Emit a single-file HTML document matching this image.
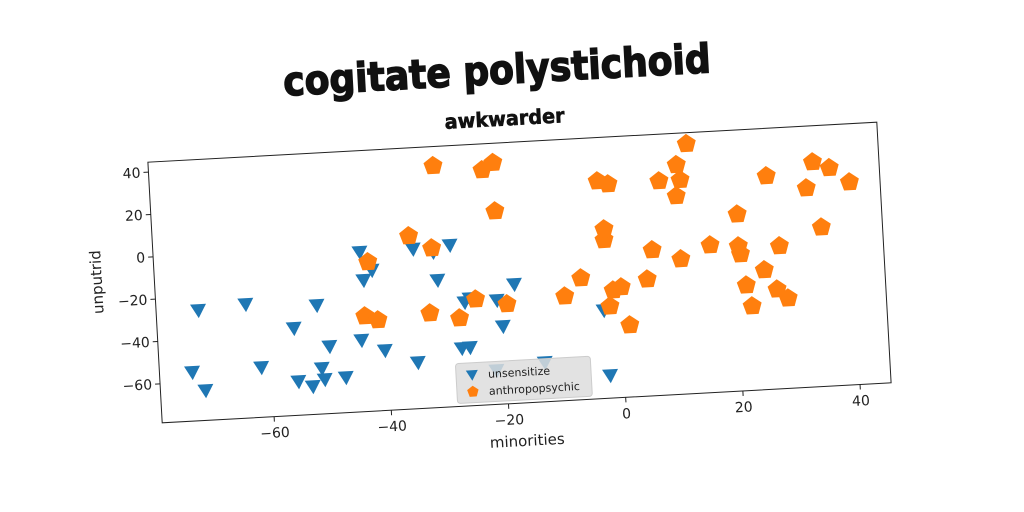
<!DOCTYPE html>
<html><head><meta charset="utf-8">
<style>
html,body{margin:0;padding:0;background:#fff;}
svg{display:block;}
text{font-family:"DejaVu Sans","Liberation Sans",sans-serif;}
</style></head>
<body>
<svg id="chart" width="1024" height="512" viewBox="0 0 1024 512" xmlns="http://www.w3.org/2000/svg">
<rect width="1024" height="512" fill="#fff"/>
<g id="fig" transform="rotate(-3.14 519.5 272.5)">
  <text x="508" y="83" text-anchor="middle" font-size="40" font-weight="bold" textLength="428" lengthAdjust="spacingAndGlyphs" fill="#111" stroke="#111" stroke-width="1.5">cogitate polystichoid</text>
  <text x="513" y="125" text-anchor="middle" font-size="20" font-weight="bold" textLength="120" lengthAdjust="spacingAndGlyphs" fill="#111" stroke="#111" stroke-width="0.6">awkwarder</text>
  <g id="plot"></g>
  <text x="518" y="446" text-anchor="middle" font-size="15" fill="#222">minorities</text>
  <text x="0" y="0" transform="translate(102 259) rotate(-90)" text-anchor="middle" font-size="15" fill="#222">unputrid</text>
</g>
</svg>
<script>
const xTicks=[-60,-40,-20,0,20,40];
const yTicks=[-60,-40,-20,0,20,40];
const blueX=[-71.9,-63.8,-73.5,-71.4,-61.7,-55.8,-51.7,-55.5,-53.1,-51.4,-51.0,-49.9,-47.4,-44.4,-43.9,-43.5,-42.0,-40.5,-34.8,-35.0,-31.4,-28.5,-30.9,-27.4,-26.0,-26.5,-25.6,-21.0,-20.2,-17.9,-13.4,-2.9,-2.4,-21.7];
const blueY=[-26.3,-24.7,-55.3,-64.2,-54.8,-37.2,-27.0,-62.4,-65.1,-56.8,-62.1,-46.7,-61.7,-44.6,-3.1,-16.4,-11.9,-50.0,-3.0,-56.5,-5.0,-2.1,-18.3,-51.0,-50.8,-29.4,-27.7,-29.3,-41.7,-22.2,-59.8,-36.8,-67.6,-62.3];
const orangeX=[-30.6,-22.3,-20.4,-20.5,-35.4,-31.6,-42.6,-43.6,-41.4,-32.5,-27.5,-24.6,-19.3,-9.4,-6.5,-2.2,-2.1,-2.8,-1.0,-1.1,-1.8,0.3,1.4,4.8,5.9,7.7,10.8,11.3,10.5,12.7,10.7,15.8,20.7,20.6,20.9,21.6,22.4,24.8,26.0,27.6,26.8,28.6,32.7,34.0,36.8,40.1,34.9];
const orangeY=[35.6,32.4,35.5,12.7,3.2,-3.1,-8.0,-33.4,-35.6,-33.7,-36.8,-28.3,-31.4,-29.2,-21.1,-3.7,1.4,24.2,22.5,-27.6,-35.1,-26.4,-44.5,-23.3,-9.7,22.6,29.8,22.6,15.1,39.4,-14.7,-8.9,5.0,-10.1,-13.9,-28.7,-38.7,-22.0,22.2,-11.1,-31.4,-35.9,15.5,27.6,24.4,17.2,-3.3];
const NS='http://www.w3.org/2000/svg';
const L=154.5,T=142,W=730,H=261;
const xMin=-79.1,xMax=45.3,yMin=-78.4,yMax=44.7;
const sx=v=>L+(v-xMin)/(xMax-xMin)*W;
const sy=v=>T+(yMax-v)/(yMax-yMin)*H;
const plot=document.getElementById('plot');
function mk(tag,attrs){const e=document.createElementNS(NS,tag);for(const k in attrs)e.setAttribute(k,attrs[k]);plot.appendChild(e);return e;}
const frame=mk('rect',{x:L,y:T,width:W,height:H,fill:'none',stroke:'#222','stroke-width':1});


xTicks.forEach(t=>{
  const x=sx(t);
  const ln=mk('line',{x1:x,x2:x,y1:T+H,y2:T+H+5,stroke:'#222'});
  
  
  const tx=mk('text',{x:x,y:T+H+21,'text-anchor':'middle','font-size':14,fill:'#222'});
  tx.textContent=(t<0?'\u2212'+(-t):t);
  
  
});
yTicks.forEach(t=>{
  const y=sy(t);
  const ln=mk('line',{x1:L-5,x2:L,y1:y,y2:y,stroke:'#222'});
  
  
  const tx=mk('text',{x:L-8,y:y+5,'text-anchor':'end','font-size':14,fill:'#222'});
  tx.textContent=(t<0?'\u2212'+(-t):t);
  
  
});
function tri(cx,cy,r){return `${cx-r},${cy-r*0.75} ${cx+r},${cy-r*0.75} ${cx},${cy+r}`;}
function pent(cx,cy,r){let p=[];for(let i=0;i<5;i++){const a=-Math.PI/2+i*2*Math.PI/5;p.push((cx+r*Math.cos(a)).toFixed(1)+','+(cy+r*Math.sin(a)).toFixed(1));}return p.join(' ');}
blueX.forEach((v,i)=>{
  const p=mk('polygon',{points:tri(sx(v),sy(blueY[i]),8),fill:'#1f77b4'});
  
  
});
orangeX.forEach((v,i)=>{
  const p=mk('polygon',{points:pent(sx(v),sy(orangeY[i]),10),fill:'#ff7f0e'});
  
  
});
// legend
const lx=L+296,ly=T+218;
const lg=mk('rect',{x:lx,y:ly,width:135,height:40,rx:3,fill:'#ddd','fill-opacity':0.85,stroke:'#ccc'});


const m1=mk('polygon',{points:tri(lx+16,ly+12,6),fill:'#1f77b4'});


const t1=mk('text',{x:lx+32,y:ly+16,'font-size':11,fill:'#222'});
t1.textContent='unsensitize';


const m2=mk('polygon',{points:pent(lx+16,ly+29,6),fill:'#ff7f0e'});


const t2=mk('text',{x:lx+32,y:ly+33,'font-size':11,fill:'#222'});
t2.textContent='anthropopsychic';


</script>
</body></html>
